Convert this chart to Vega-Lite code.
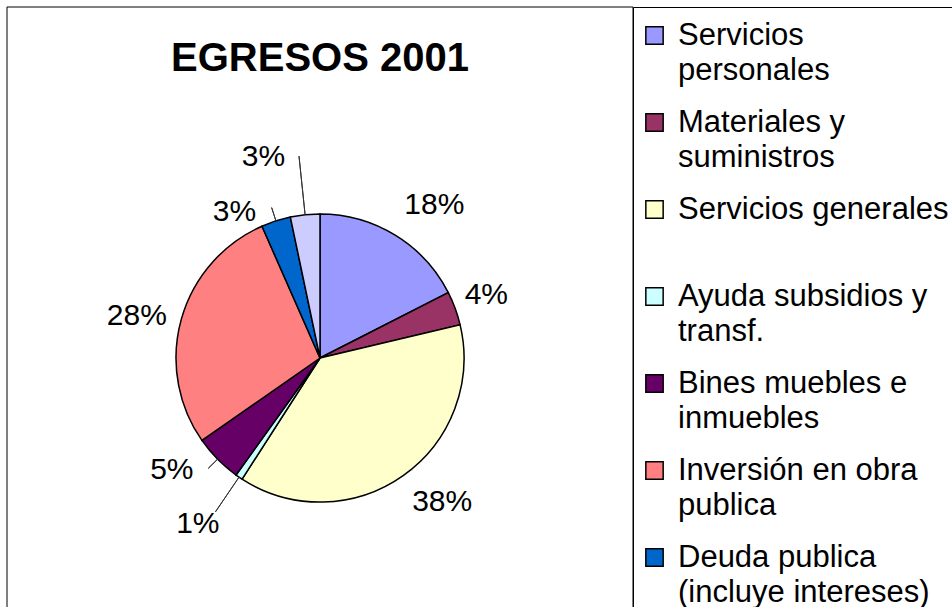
{
  "$schema": "https://vega.github.io/schema/vega-lite/v6.json",
  "width": 626,
  "height": 702,
  "autosize": {"type": "none"},
  "padding": {"left": 7, "top": 7, "right": 319, "bottom": 0},
  "background": "white",
  "title": {
    "text": "EGRESOS 2001",
    "font": "Liberation Sans",
    "fontSize": 40,
    "fontWeight": "bold",
    "color": "black",
    "anchor": "middle",
    "frame": "group",
    "baseline": "alphabetic",
    "offset": -104
  },
  "config": {
    "view": {"stroke": null},
    "text": {"font": "Liberation Sans", "fontSize": 30, "color": "black"}
  },
  "data": {
    "values": [
      {"categoria": "Servicios personales", "valor": 17.5, "etiqueta": "18%", "orden": 1},
      {"categoria": "Materiales y suministros", "valor": 3.8, "etiqueta": "4%", "orden": 2},
      {"categoria": "Servicios generales", "valor": 37.8, "etiqueta": "38%", "orden": 3},
      {"categoria": "Ayuda subsidios y transf.", "valor": 0.8, "etiqueta": "1%", "orden": 4},
      {"categoria": "Bines muebles e inmuebles", "valor": 5.4, "etiqueta": "5%", "orden": 5},
      {"categoria": "Inversión en obra publica", "valor": 28.1, "etiqueta": "28%", "orden": 6},
      {"categoria": "Deuda publica (incluye intereses)", "valor": 3.3, "etiqueta": "3%", "orden": 7},
      {"categoria": "Otros", "valor": 3.3, "etiqueta": "3%", "orden": 8}
    ]
  },
  "layer": [
    {
      "data": {"values": [{"marco": 1}]},
      "mark": {"type": "rect", "fill": "transparent", "stroke": "black", "strokeWidth": 1},
      "encoding": {}
    },
    {
      "encoding": {
        "theta": {"field": "valor", "type": "quantitative", "stack": true},
        "order": {"field": "orden", "type": "quantitative"},
        "detail": {"field": "categoria", "type": "nominal"}
      },
      "layer": [
        {
          "mark": {"type": "arc", "radius": 144, "stroke": "black", "strokeWidth": 1.5},
          "encoding": {
            "color": {
              "field": "categoria",
              "type": "nominal",
              "scale": {
                "domain": ["Servicios personales", "Materiales y suministros", "Servicios generales", "Ayuda subsidios y transf.", "Bines muebles e inmuebles", "Inversión en obra publica", "Deuda publica (incluye intereses)", "Otros"],
                "range": ["#9999FF", "#993366", "#FFFFCC", "#CCFFFF", "#660066", "#FF8080", "#0066CC", "#CCCCFF"]
              },
              "legend": {
                "title": " ",
                "titleFontSize": 2,
                "titlePadding": 5,
                "orient": "right",
                "offset": 0,
                "padding": 6,
                "strokeColor": "black",
                "symbolType": "square",
                "symbolSize": 300,
                "symbolStrokeColor": "black",
                "symbolStrokeWidth": 1.5,
                "symbolOpacity": 1,
                "labelFont": "Liberation Sans",
                "labelFontSize": 31,
                "labelColor": "black",
                "labelLimit": 600,
                "labelOffset": 8,
                "labelBaseline": "alphabetic",
                "rowPadding": 20,
                "labelExpr": "datum.label == 'Servicios generales' ? ['Servicios generales', ' '] : datum.label == 'Otros' ? ['Otros', ' '] : datum.label == 'Servicios personales' ? ['Servicios', 'personales'] : datum.label == 'Deuda publica (incluye intereses)' ? ['Deuda publica', '(incluye intereses)'] : [slice(datum.label, 0, lastindexof(datum.label, ' ')), slice(datum.label, lastindexof(datum.label, ' ') + 1)]",
                "encode": {
                  "labels": {"update": {"lineHeight": {"value": 35}, "dy": {"value": 9}}}
                }
              }
            }
          }
        },
        {
          "mark": {"type": "arc", "radius": 203, "radius2": 144, "padAngle": 0.6, "fill": "transparent", "stroke": "#333333", "strokeWidth": 1},
          "encoding": {"strokeOpacity": {"condition": {"test": "datum.categoria == 'Otros'", "value": 1}, "value": 0}}
        },
        {
          "mark": {"type": "arc", "radius": 158, "radius2": 144, "padAngle": 0.6, "fill": "transparent", "stroke": "#333333", "strokeWidth": 1},
          "encoding": {"strokeOpacity": {"condition": {"test": "datum.categoria == 'Deuda publica (incluye intereses)'", "value": 1}, "value": 0}}
        },
        {
          "mark": {"type": "arc", "radius": 157, "radius2": 144, "padAngle": 0.6, "fill": "transparent", "stroke": "#333333", "strokeWidth": 1},
          "encoding": {"strokeOpacity": {"condition": {"test": "datum.categoria == 'Bines muebles e inmuebles'", "value": 1}, "value": 0}}
        },
        {
          "mark": {"type": "arc", "radius": 186, "radius2": 144, "padAngle": 0.6, "fill": "transparent", "stroke": "#333333", "strokeWidth": 1},
          "encoding": {"strokeOpacity": {"condition": {"test": "datum.categoria == 'Ayuda subsidios y transf.'", "value": 1}, "value": 0}}
        },
        {
          "mark": {"type": "text", "radius": 191, "thetaOffset": 0.092},
          "encoding": {"text": {"condition": {"test": "datum.categoria == 'Servicios personales'", "field": "etiqueta"}, "value": ""}}
        },
        {
          "mark": {"type": "text", "radius": 178, "thetaOffset": -0.012},
          "encoding": {"text": {"condition": {"test": "datum.categoria == 'Materiales y suministros'", "field": "etiqueta"}, "value": ""}}
        },
        {
          "mark": {"type": "text", "radius": 189, "thetaOffset": -0.087},
          "encoding": {"text": {"condition": {"test": "datum.categoria == 'Servicios generales'", "field": "etiqueta"}, "value": ""}}
        },
        {
          "mark": {"type": "text", "radius": 206, "thetaOffset": 0.038},
          "encoding": {"text": {"condition": {"test": "datum.categoria == 'Ayuda subsidios y transf.'", "field": "etiqueta"}, "value": ""}}
        },
        {
          "mark": {"type": "text", "radius": 186, "thetaOffset": 0.13},
          "encoding": {"text": {"condition": {"test": "datum.categoria == 'Bines muebles e inmuebles'", "field": "etiqueta"}, "value": ""}}
        },
        {
          "mark": {"type": "text", "radius": 188, "thetaOffset": -0.047},
          "encoding": {"text": {"condition": {"test": "datum.categoria == 'Inversión en obra publica'", "field": "etiqueta"}, "value": ""}}
        },
        {
          "mark": {"type": "text", "radius": 169, "thetaOffset": -0.22},
          "encoding": {"text": {"condition": {"test": "datum.categoria == 'Deuda publica (incluye intereses)'", "field": "etiqueta"}, "value": ""}}
        },
        {
          "mark": {"type": "text", "radius": 209, "thetaOffset": -0.17},
          "encoding": {"text": {"condition": {"test": "datum.categoria == 'Otros'", "field": "etiqueta"}, "value": ""}}
        }
      ]
    }
  ]
}
